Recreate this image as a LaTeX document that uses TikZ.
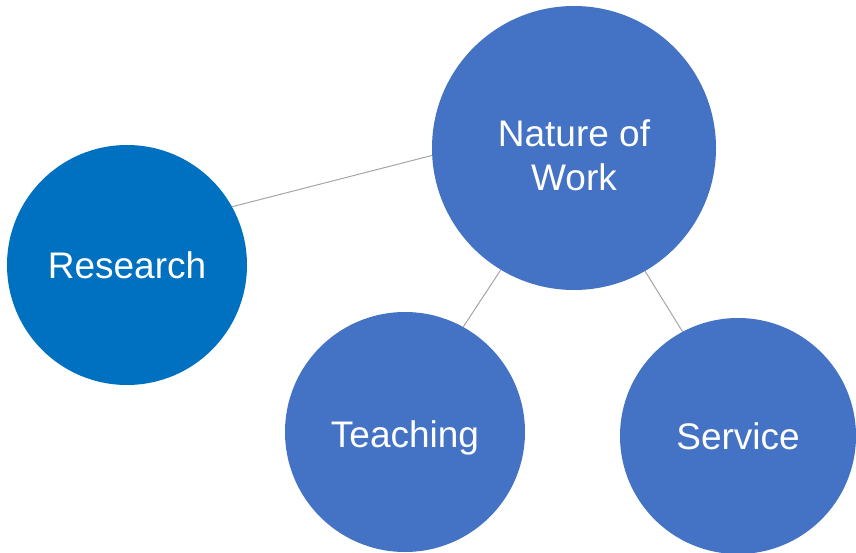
\documentclass[tikz,border=0pt]{standalone}
\usepackage{fontspec}
\setmainfont{Liberation Sans}
\usepackage{tikz}

\definecolor{workblue}{HTML}{4472C4}
\definecolor{researchblue}{HTML}{0070C0}
\definecolor{linkgray}{HTML}{A5A5A5}

\begin{document}
\begin{tikzpicture}[x=1pt, y=-1pt,
  bubble/.style={circle, fill=workblue, text=white, inner sep=0pt,
    font=\fontsize{37}{44}\selectfont, text depth=0pt, text height=27pt, align=center},
  link/.style={linkgray, line width=1pt}]
\useasboundingbox (0,0) rectangle (856,553);

\node[bubble, minimum size=284pt, text height=86pt] (work) at (574,148) {Nature of\\Work};
\node[bubble, minimum size=240pt, fill=researchblue] (research) at (127,265) {Research};
\node[bubble, minimum size=240pt, text height=30pt] (teaching) at (405,432) {Teaching};
\node[bubble, minimum size=236pt] (service) at (738,436) {Service};

\draw[link] (research.29) -- (work.183);
\draw[link] (teaching.61) -- (work.239);
\draw[link] (service.118) -- (work.-60);

\end{tikzpicture}
\end{document}
